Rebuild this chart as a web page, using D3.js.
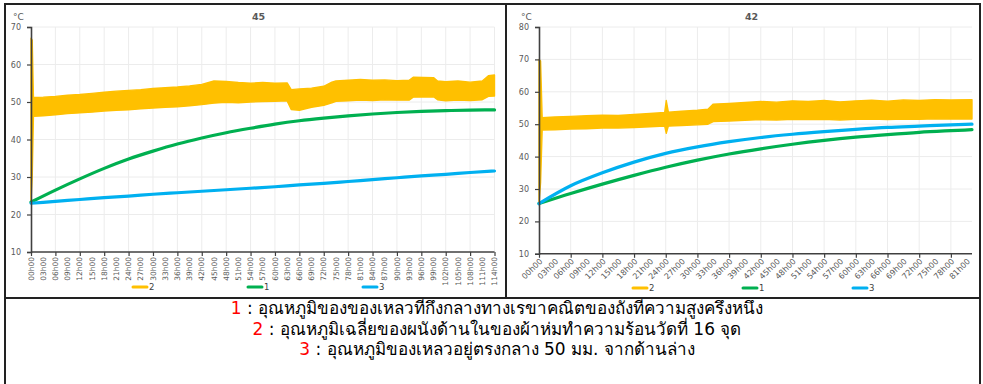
<!DOCTYPE html>
<html>
<head>
<meta charset="utf-8">
<script src="https://cdn.jsdelivr.net/npm/d3@7/dist/d3.min.js"></script>
<style>
  html, body { margin: 0; padding: 0; background: #fff; }
  svg { display: block; }
</style>
</head>
<body>
<svg id="chart" width="983" height="384"></svg>
<script>
// ---------- Left panel ("45") ----------
const leftTitle = "45";
const leftTickLabels = ["00h00","03h00","06h00","09h00","12h00","15h00","18h00","21h00","24h00","27h00",
  "30h00","33h00","36h00","39h00","42h00","45h00","48h00","51h00","54h00","57h00","60h00","63h00",
  "66h00","69h00","72h00","75h00","78h00","81h00","84h00","87h00","90h00","93h00","96h00","99h00",
  "102h00","105h00","108h00","111h00","114h00"];
const leftYTicks = [10, 20, 30, 40, 50, 60, 70];

// series 2: band of the wall temperature (min / max envelope)
const leftBandHours = [0, 0.3, 0.6, 3, 6, 9, 12, 15, 18, 21, 24, 27, 30, 33, 36, 39, 42, 45, 48, 51, 54, 57, 60, 63,
  64, 66, 69, 72, 74, 75, 78, 81, 84, 87, 90, 93, 94, 99, 100, 102, 105, 108, 111, 112.5, 114];
const leftBandLow = [23.3, 30.0, 46.2, 46.3, 46.6, 46.9, 47.1, 47.3, 47.6, 47.8, 47.9, 48.2, 48.4, 48.6, 48.7, 49.0, 49.3,
  49.7, 49.9, 49.8, 50.0, 50.1, 50.2, 50.3, 48.0, 47.8, 48.6, 49.1, 49.8, 50.2, 50.3, 50.5, 50.4, 50.6, 50.5,
  50.5, 51.3, 51.4, 50.6, 50.3, 50.5, 50.4, 50.6, 51.5, 51.6];
const leftBandHigh = [67.0, 66.5, 51.2, 51.3, 51.5, 51.8, 52.0, 52.3, 52.6, 52.9, 53.1, 53.3, 53.6, 53.8, 54.0, 54.3, 54.7,
  55.6, 55.5, 55.2, 55.0, 55.2, 55.0, 55.1, 53.3, 53.5, 53.7, 54.2, 55.3, 55.6, 55.8, 56.0, 55.8, 55.9, 55.7,
  55.8, 56.6, 56.5, 55.6, 55.4, 55.6, 55.3, 55.6, 57.0, 57.2];

// series 1 and 3
const leftLineHours = [0, 6, 12, 18, 24, 30, 36, 42, 48, 54, 60, 66, 72, 78, 84, 90, 96, 102, 108, 114];
const leftSeries1 = [23.3, 26.5, 29.5, 32.3, 34.8, 36.9, 38.8, 40.4, 41.8, 43.0, 44.1, 45.0, 45.7, 46.3, 46.8,
  47.2, 47.5, 47.7, 47.85, 47.9];
const leftSeries3 = [23.0, 23.5, 24.0, 24.5, 24.9, 25.4, 25.8, 26.2, 26.6, 27.0, 27.4, 27.9, 28.3, 28.8, 29.3,
  29.8, 30.3, 30.7, 31.2, 31.6];

// ---------- Right panel ("42") ----------
const rightTitle = "42";
const rightTickLabels = ["00h00","03h00","06h00","09h00","12h00","15h00","18h00","21h00","24h00","27h00",
  "30h00","33h00","36h00","39h00","42h00","45h00","48h00","51h00","54h00","57h00","60h00","63h00",
  "66h00","69h00","72h00","75h00","78h00","81h00"];
const rightYTicks = [10, 20, 30, 40, 50, 60, 70, 80];

const rightBandHours = [0, 0.3, 0.6, 3, 6, 9, 12, 15, 18, 21, 23.8, 24.1, 24.5, 27, 30, 32, 33, 36, 39, 42, 45, 48,
  51, 54, 57, 60, 63, 66, 69, 72, 75, 78, 82];
const rightBandLow = [25.5, 32.0, 48.2, 48.3, 48.5, 48.6, 48.8, 48.8, 49.0, 49.2, 49.4, 47.2, 49.4, 49.6, 49.8, 50.0,
  50.8, 51.0, 51.2, 51.4, 51.3, 51.5, 51.4, 51.5, 51.3, 51.5, 51.6, 51.4, 51.6, 51.5, 51.7, 51.6, 51.6];
const rightBandHigh = [70.0, 69.5, 52.0, 52.2, 52.4, 52.6, 52.8, 52.7, 53.0, 53.3, 53.6, 57.3, 53.7, 54.0, 54.3, 54.6,
  56.2, 56.4, 56.7, 57.0, 56.8, 57.2, 57.0, 57.3, 56.9, 57.2, 57.4, 57.1, 57.5, 57.3, 57.6, 57.5, 57.6];

const rightLineHours = [0, 6, 12, 18, 24, 30, 36, 42, 48, 54, 60, 66, 72, 78, 82];
const rightSeries1 = [25.5, 28.6, 31.5, 34.2, 36.7, 38.9, 40.8, 42.4, 43.8, 45.0, 46.0, 46.8, 47.5, 48.0, 48.3];
const rightSeries3 = [25.5, 31.0, 35.0, 38.3, 41.0, 43.0, 44.6, 45.9, 46.9, 47.7, 48.4, 49.0, 49.4, 49.8, 50.0];

// ---------- Legend / caption ----------
const legendNames = ["2", "1", "3"];
const seriesColors = { "2": "#FFC000", "1": "#00B050", "3": "#00B0F0" };
const captionNumbers = ["1", "2", "3"];
const captionTexts = [
  " : อุณหภูมิของของเหลวทีกึงกลางทางเรขาคณิตของถังทีความสูงครึงหนึง",
  " : อุณหภูมิเฉลี่ยของผนังด้านในของผ้าห่มทำความร้อนวัดที่ 16 จุด",
  " : อุณหภูมิของเหลวอยู่ตรงกลาง 50 มม. จากด้านล่าง"
];

const svg = d3.select("#chart");
const tickFont = "DejaVu Sans, sans-serif";

function drawPanel(p) {
  const g = svg.append("g");
  const x = d3.scaleLinear().domain([0, p.xMax]).range([p.left, p.right]);
  const y = d3.scaleLinear().domain([10, p.yMax]).range([p.bottom, p.top]);

  // gridlines
  g.append("g").selectAll("line").data(p.yTicks.filter(v => v > 10)).join("line")
    .attr("x1", p.left).attr("x2", p.right)
    .attr("y1", d => y(d)).attr("y2", d => y(d))
    .attr("stroke", "#ececec").attr("stroke-width", 1);
  g.append("g").selectAll("line").data(p.gridHours).join("line")
    .attr("x1", d => x(d)).attr("x2", d => x(d))
    .attr("y1", p.top).attr("y2", p.bottom)
    .attr("stroke", "#ececec").attr("stroke-width", 1);

  // series 2 band
  const band = p.bandHours.map((h, i) => ({ h, lo: p.bandLow[i], hi: p.bandHigh[i] }));
  g.append("path").datum(band)
    .attr("d", d3.area().x(d => x(d.h)).y0(d => y(d.lo)).y1(d => y(d.hi)))
    .attr("fill", seriesColors["2"]).attr("stroke", seriesColors["2"]).attr("stroke-width", 1.4)
    .attr("stroke-linejoin", "round");

  // series 1 and 3
  const line = d3.line().x(d => x(d[0])).y(d => y(d[1])).curve(d3.curveMonotoneX);
  [["1", p.s1], ["3", p.s3]].forEach(([name, vals]) => {
    g.append("path").datum(p.lineHours.map((h, i) => [h, vals[i]]))
      .attr("d", line).attr("fill", "none")
      .attr("stroke", seriesColors[name]).attr("stroke-width", 3.2)
      .attr("stroke-linecap", "round");
  });

  // y axis
  const yAxis = g.append("g").attr("transform", `translate(${p.left},0)`)
    .call(d3.axisLeft(y).tickValues(p.yTicks).tickSize(4).tickPadding(6).tickFormat(d3.format("d")));
  yAxis.select(".domain").attr("stroke", "#404040").attr("stroke-width", 1.6);
  yAxis.selectAll(".tick line").attr("stroke", "#404040").attr("stroke-width", 1.2);
  yAxis.selectAll(".tick text").attr("font-family", tickFont).attr("font-size", 8).attr("fill", "#595959");

  // x axis: tick marks every 6 h
  const xAxis = g.append("g").attr("transform", `translate(0,${p.bottom})`)
    .call(d3.axisBottom(x).tickValues(p.markHours).tickSize(4).tickFormat(""));
  xAxis.select(".domain").attr("stroke", "#404040").attr("stroke-width", 1.6)
    .attr("d", `M${p.left},0H${p.right}`);
  xAxis.selectAll(".tick line").attr("stroke", "#404040").attr("stroke-width", 1.2);

  // x labels every 3 h
  const lbl = g.append("g").attr("font-family", tickFont).attr("font-size", p.labelSize).attr("fill", "#595959");
  p.tickLabels.forEach(t => {
    const h = parseInt(t, 10);
    if (p.rotate === -90) {
      lbl.append("text")
        .attr("transform", `translate(${x(h)},${p.bottom + 5}) rotate(-90)`)
        .attr("text-anchor", "end").attr("dy", "0.35em").text(t);
    } else {
      lbl.append("text")
        .attr("transform", `translate(${x(h) + 2},${p.bottom + 6}) rotate(-45)`)
        .attr("text-anchor", "end").attr("dy", "0.35em").text(t);
    }
  });

  // unit and title
  g.append("text").attr("x", p.unitX).attr("y", 20).attr("font-family", tickFont)
    .attr("font-size", 9).attr("fill", "#595959").text("°C");
  g.append("text").attr("x", p.titleX).attr("y", 20).attr("font-family", tickFont)
    .attr("font-size", 9.5).attr("font-weight", "bold").attr("fill", "#595959").text(p.title);

  // legend
  legendNames.forEach((n, i) => {
    const lx = p.legendX[i];
    g.append("line").attr("x1", lx).attr("x2", lx + 14).attr("y1", p.legendY).attr("y2", p.legendY)
      .attr("stroke", seriesColors[n]).attr("stroke-width", 3).attr("stroke-linecap", "round");
    g.append("text").attr("x", lx + 16).attr("y", p.legendY).attr("dy", "0.35em")
      .attr("font-family", tickFont).attr("font-size", 8.5).attr("fill", "#404040").text(n);
  });
}

drawPanel({
  left: 31, right: 494.5, top: 27, bottom: 252, xMax: 114, yMax: 70,
  yTicks: leftYTicks, gridHours: d3.range(6, 115, 6), markHours: d3.range(0, 115, 6),
  bandHours: leftBandHours, bandLow: leftBandLow, bandHigh: leftBandHigh,
  lineHours: leftLineHours, s1: leftSeries1, s3: leftSeries3,
  tickLabels: leftTickLabels, rotate: -90, labelSize: 7.5,
  unitX: 13, titleX: 252, title: leftTitle,
  legendX: [133, 248, 363], legendY: 287
});

drawPanel({
  left: 539, right: 972, top: 27, bottom: 253.8, xMax: 82, yMax: 80,
  yTicks: rightYTicks, gridHours: d3.range(6, 79, 6), markHours: d3.range(0, 79, 6),
  bandHours: rightBandHours, bandLow: rightBandLow, bandHigh: rightBandHigh,
  lineHours: rightLineHours, s1: rightSeries1, s3: rightSeries3,
  tickLabels: rightTickLabels, rotate: -45, labelSize: 8,
  unitX: 521, titleX: 745, title: rightTitle,
  legendX: [633, 743, 853], legendY: 288
});

// frame lines
const frame = svg.append("g").attr("stroke", "#222").attr("fill", "none");
frame.append("line").attr("x1", 5).attr("x2", 980).attr("y1", 4).attr("y2", 4).attr("stroke-width", 2);
frame.append("line").attr("x1", 5).attr("x2", 5).attr("y1", 3).attr("y2", 384).attr("stroke-width", 2);
frame.append("line").attr("x1", 980).attr("x2", 980).attr("y1", 3).attr("y2", 384).attr("stroke-width", 2);
frame.append("line").attr("x1", 506).attr("x2", 506).attr("y1", 4).attr("y2", 298).attr("stroke-width", 2);
frame.append("line").attr("x1", 5).attr("x2", 980).attr("y1", 298).attr("y2", 298).attr("stroke-width", 2);

// caption
const cap = svg.append("g").attr("font-family", "Tahoma, 'DejaVu Sans', 'Noto Sans', sans-serif")
  .attr("font-size", 17).attr("text-anchor", "middle");
captionTexts.forEach((t, i) => {
  const tx = cap.append("text").attr("x", 497).attr("y", 314 + i * 20.5);
  tx.append("tspan").attr("fill", "#ff0000").text(captionNumbers[i]);
  tx.append("tspan").attr("fill", "#000").text(t);
});
</script>
</body>
</html>
